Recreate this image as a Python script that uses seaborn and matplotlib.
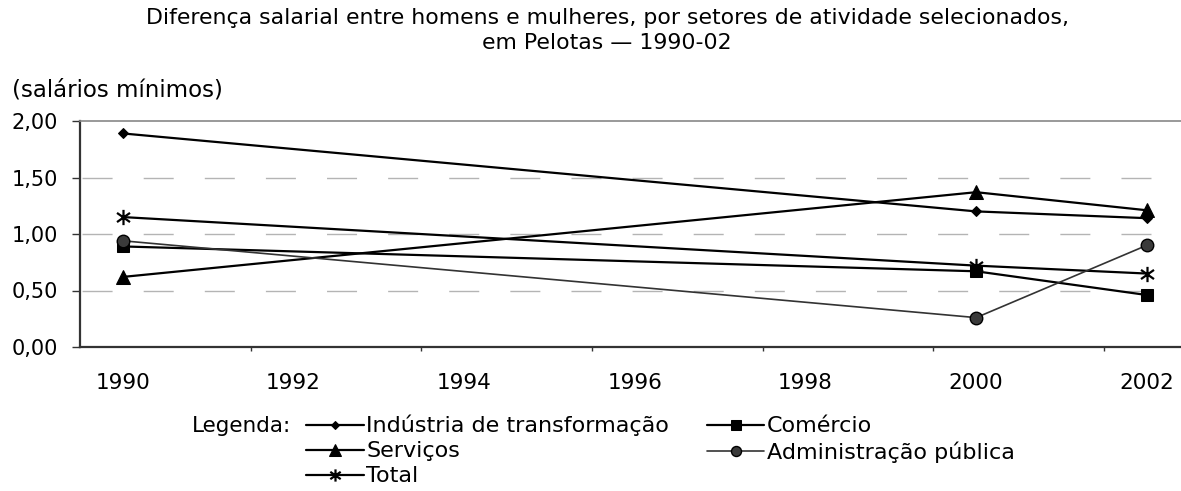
import matplotlib
matplotlib.use("Agg")
import matplotlib.pyplot as plt
import matplotlib.ticker as mticker
from matplotlib.path import Path
import seaborn as sns
import pandas as pd

sns.set_theme(style="white")
plt.rcParams['font.family'] = ['DejaVu Sans']
plt.rcParams['text.color'] = 'black'
plt.rcParams['xtick.color'] = 'black'
plt.rcParams['ytick.color'] = 'black'

# dados (salários mínimos)
anos = [1990, 2000, 2002]
industria = [1.89, 1.20, 1.14]
comercio = [0.89, 0.67, 0.46]
servicos = [0.62, 1.37, 1.21]
adm_publica = [0.94, 0.26, 0.90]
total = [1.15, 0.72, 0.65]

series = {
    "Indústria de transformação": industria,
    "Serviços": servicos,
    "Total": total,
    "Comércio": comercio,
    "Administração pública": adm_publica,
}

# asterisco: traço vertical + X
asterisco = Path([(0, -1), (0, 1), (-0.85, -0.6), (0.85, 0.6), (-0.85, 0.6), (0.85, -0.6)],
                 [Path.MOVETO, Path.LINETO, Path.MOVETO, Path.LINETO, Path.MOVETO, Path.LINETO])

estilos = {
    "Indústria de transformação": dict(marker="D", markersize=5, color="black", lw=1.6,
                                       markerfacecolor="black", markeredgecolor="black"),
    "Serviços": dict(marker="^", markersize=10, color="black", lw=1.6,
                     markerfacecolor="black", markeredgecolor="black"),
    "Total": dict(marker=asterisco, markersize=11, color="black", lw=1.6,
                  markeredgewidth=1.6, markeredgecolor="black"),
    "Comércio": dict(marker="s", markersize=9, color="black", lw=1.6,
                     markerfacecolor="black", markeredgecolor="black"),
    "Administração pública": dict(marker="o", markersize=9, color="#333333", lw=1.2,
                                  markerfacecolor="#3a3a3a", markeredgecolor="black",
                                  markeredgewidth=1.0),
}

fig = plt.figure(figsize=(11.81, 4.91), dpi=100)
ax = fig.add_axes([80 / 1181, 1 - 347 / 491, (1181 - 80) / 1181, 226 / 491])

for nome, valores in series.items():
    df = pd.DataFrame({"ano": anos, "valor": valores})
    sns.lineplot(data=df, x="ano", y="valor", ax=ax, label=nome, **estilos[nome])
ax.get_legend().remove()

ax.set_xlim(1989.5, 2002.4)
ax.set_ylim(0, 2)
ax.set_xlabel("")
ax.set_ylabel("")

ax.xaxis.set_major_locator(mticker.FixedLocator([1990, 1992, 1994, 1996, 1998, 2000, 2002]))
ax.xaxis.set_minor_locator(mticker.FixedLocator([1991.5, 1993.5, 1995.5, 1997.5, 1999.5, 2001.5]))
ax.tick_params(axis="x", which="major", length=0, pad=19, labelsize=15.5)
ax.tick_params(axis="x", which="minor", length=3, width=1, color="#333333", direction="out",
               bottom=True)
ax.yaxis.set_major_locator(mticker.MultipleLocator(0.5))
ax.yaxis.set_major_formatter(mticker.FuncFormatter(lambda v, p: f"{v:.2f}".replace(".", ",")))
ax.tick_params(axis="y", length=6, width=1, color="#333333", direction="out", pad=10,
               labelsize=15, left=True)

for y in [0.5, 1.0, 1.5]:
    ax.axhline(y, color="#b4b4b4", lw=1, linestyle=(-1.5, (21.6, 22.4)), zorder=0)

for s in ["left", "bottom"]:
    ax.spines[s].set_color("#333333")
    ax.spines[s].set_linewidth(1.6)
ax.spines["top"].set_color("#888888")
ax.spines["top"].set_linewidth(1.2)
ax.spines["right"].set_visible(False)

fig.text(607 / 1181, 1 - 18 / 491,
         "Diferença salarial entre homens e mulheres, por setores de atividade selecionados,",
         ha="center", va="center", fontsize=15.8)
fig.text(607 / 1181, 1 - 43 / 491, "em Pelotas — 1990-02", ha="center", va="center",
         fontsize=15.8)
fig.text(12 / 1181, 1 - 90 / 491, "(salários mínimos)", ha="left", va="center", fontsize=16.5)

fig.text(192 / 1181, 1 - 426 / 491, "Legenda:", ha="left", va="center", fontsize=15.5)
h, l = ax.get_legend_handles_labels()
fig.legend(h, l, loc="upper left", bbox_to_anchor=(306 / 1181, 1 - 415 / 491), ncol=2,
           frameon=False, fontsize=16, handlelength=2.6, handletextpad=0.1,
           columnspacing=1.7, labelspacing=0.22, borderpad=0, borderaxespad=0,
           markerscale=0.8)

fig.savefig("out.png", dpi=100)
